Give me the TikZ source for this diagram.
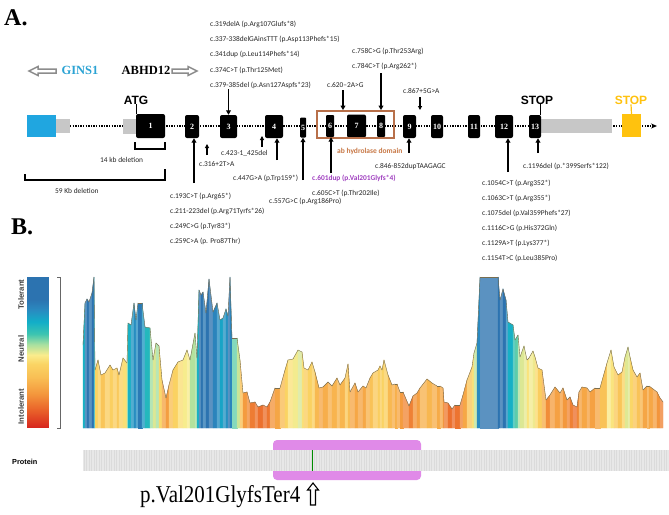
\documentclass[tikz,border=0pt]{standalone}
\usepackage{fontspec}
\setmainfont{Liberation Serif}
\newfontfamily\carlito{Carlito}
\newfontfamily\arialf{Liberation Sans}
\usetikzlibrary{arrows.meta}

\definecolor{cA}{RGB}{215,38,30}
\definecolor{cB}{RGB}{234,100,42}
\definecolor{cC}{RGB}{243,150,60}
\definecolor{cD}{RGB}{249,190,84}
\definecolor{cE}{RGB}{250,212,100}
\definecolor{cF}{RGB}{250,236,140}
\definecolor{cG}{RGB}{168,224,160}
\definecolor{cH}{RGB}{60,196,176}
\definecolor{cI}{RGB}{18,174,200}
\definecolor{cJ}{RGB}{42,138,192}
\definecolor{cK}{RGB}{44,115,176}
\definecolor{genblue}{RGB}{32,166,224}
\definecolor{ginsblue}{RGB}{43,163,212}
\definecolor{stopyel}{RGB}{255,194,14}
\definecolor{brownc}{RGB}{184,112,74}
\definecolor{domtxt}{RGB}{200,120,70}
\definecolor{purp}{RGB}{160,64,192}
\definecolor{pinkc}{RGB}{224,138,232}

\newcommand\pcmix[4]{\pgfmathtruncatemacro\pct{max(0,min(100,100*(\ff-#1)/(#2-#1)))}\colorlet{pc}{#4!\pct!#3}}
\newcommand\setpc[1]{%
 \pgfmathsetmacro\ff{#1}%
 \ifdim\ff pt<0.12pt \pcmix{0}{0.12}{cA}{cB}\else
 \ifdim\ff pt<0.22pt \pcmix{0.12}{0.22}{cB}{cC}\else
 \ifdim\ff pt<0.33pt \pcmix{0.22}{0.33}{cC}{cD}\else
 \ifdim\ff pt<0.42pt \pcmix{0.33}{0.42}{cD}{cE}\else
 \ifdim\ff pt<0.48pt \pcmix{0.42}{0.48}{cE}{cF}\else
 \ifdim\ff pt<0.55pt \pcmix{0.48}{0.55}{cF}{cG}\else
 \ifdim\ff pt<0.62pt \pcmix{0.55}{0.62}{cG}{cH}\else
 \ifdim\ff pt<0.70pt \pcmix{0.62}{0.70}{cH}{cI}\else
 \ifdim\ff pt<0.78pt \pcmix{0.70}{0.78}{cI}{cJ}\else
 \ifdim\ff pt<0.85pt \pcmix{0.78}{0.85}{cJ}{cK}\else
 \colorlet{pc}{cK}\fi\fi\fi\fi\fi\fi\fi\fi\fi\fi}

\def\prof{83/345, 85/303, 87/299, 89/302, 92/293, 94/277, 95/370, 98/360, 101/375, 105/373, 110/365, 113/370, 117/368, 119/375, 123/358, 127/363, 128/323, 131/325, 134/303, 136/320, 138/303, 142/303, 145/327, 150/328, 153/360, 156/343, 159/346, 162/380, 166/398, 169/385, 173/370, 178/362, 183/360, 187/350, 190/360, 195/333, 197/358, 199/290, 201/295, 203/292, 206/313, 209/279, 213/312, 217/303, 220/320, 223/318, 226/309, 228/316, 230/277, 232/338, 237/338, 240/360, 243/393, 247/392, 250/403, 255/402, 258/407, 263/405, 267/407, 270/402, 275/388, 280/388, 285/370, 288/360, 293/359, 298/350, 302/352, 304/368, 308/370, 312/362, 315/372, 319/388, 323/387, 328/382, 332/386, 337/378, 340/385, 345/378, 348/364, 350/392, 355/383, 358/392, 363/386, 366/388, 370/378, 373/373, 378/370, 380/366, 382/370, 384/360, 388/375, 392/385, 395/384, 397/384, 400/392, 403/392, 409/406, 413/396, 417/393, 420/388, 427/379, 432/383, 437/386, 440/386, 443/388, 444/402, 448/403, 452/409, 455/405, 460/405, 463/395, 467/380, 472/367, 474/353, 477/343, 480/277, 498/277, 500/300, 503/289, 506/300, 508/322, 513/325, 515/340, 518/335, 520/357, 524/346, 527/360, 529/358, 533/351, 535/357, 538/368, 542/370, 546/400, 550/395, 555/387, 560/393, 563/388, 567/400, 570/397, 573/405, 577/407, 579/392, 582/387, 587/388, 590/392, 595/388, 600/388, 607/363, 611/350, 614/367, 618/375, 622/372, 625/357, 628/347, 630/357, 633/370, 637/377, 640/373, 643/390, 647/386, 649/386, 653/389, 657/392, 660/398, 663/402}

\tikzset{
 mut/.style={font=\carlito\fontsize{7.4}{8.5}\selectfont, text=black!85, inner sep=0pt, anchor=west},
 exonbox/.style={fill=black, rounded corners=2pt, inner sep=0pt, text=white, font=\bfseries\fontsize{8}{9}\selectfont},
 utr/.style={fill=black!22, inner sep=0pt},
 uparr/.style={line width=1.6pt, -{Triangle[length=4.5pt,width=4.8pt]}},
 thinarr/.style={line width=1.1pt, -{Triangle[length=4pt,width=4pt]}},
 bigsans/.style={font=\arialf\bfseries\fontsize{12}{13}\selectfont, inner sep=0pt},
 genelbl/.style={font=\bfseries\fontsize{12.5}{14}\selectfont, inner sep=0pt},
 hollow/.style={draw=black!45, line width=1.5pt, fill=white, line join=miter},
 profline/.style={draw={rgb,255:red,120;green,110;blue,80}, line width=0.4pt},
 scalelbl/.style={font=\arialf\bfseries\fontsize{7.8}{9}\selectfont, text=black!75, rotate=90, inner sep=0pt},
 panel/.style={font=\bfseries\fontsize{24}{26}\selectfont, anchor=base west, inner sep=0},
}

\begin{document}
\begin{tikzpicture}[x=1pt,y=-1pt]
\useasboundingbox (0,0) rectangle (669,514);
\fill[white] (0,0) rectangle (669,514);

% ---------- Part A ----------
\node[panel] (lblA) at (4,25) {A.};

% gene arrows
\draw[hollow] (29,71) -- (38,66.5) -- (38,69) -- (56,69) -- (56,73) -- (38,73) -- (38,75.5) -- cycle;
\node[genelbl, text=ginsblue] (gins1) at (80,70) {GINS1};
\node[genelbl] (abhd) at (146,70) {ABHD12};
\draw[hollow] (197,71) -- (188,66.5) -- (188,69) -- (172,69) -- (172,73) -- (188,73) -- (188,75.5) -- cycle;

% gene line
\coordinate (gl0) at (70,126);
\coordinate (gl1) at (657,126);
\draw[line width=1.3pt, dash pattern=on 1.3pt off 1.3pt, -{Stealth[length=6pt,width=5pt]}] (gl0) -- (gl1);

% boxes
\node[fill=genblue, minimum width=29pt, minimum height=22pt, inner sep=0] (gbox) at (41.5,126) {};
\node[utr, minimum width=14pt, minimum height=14pt] (u0) at (63,126) {};
\node[utr, minimum width=13pt, minimum height=15pt] (u5) at (129.5,126.5) {};
\node[utr, minimum width=71pt, minimum height=14pt] (u3) at (576.5,126) {};
\node[fill=stopyel, minimum width=19pt, minimum height=23pt, inner sep=0] (ybox) at (631.5,125.5) {};

\node[exonbox, minimum width=29pt, minimum height=24pt] (e1) at (150.5,126) {1};
\node[exonbox, minimum width=14pt, minimum height=23pt] (e2) at (192,126.5) {2};
\node[exonbox, minimum width=17pt, minimum height=23pt] (e3) at (228.5,126.5) {3};
\node[exonbox, minimum width=18pt, minimum height=23pt] (e4) at (274,126.5) {4};
\node[exonbox, minimum width=6pt, minimum height=20pt, rounded corners=1pt] (e5) at (303,127.5) {5};
\node[exonbox, minimum width=8pt, minimum height=22pt, rounded corners=1pt] (e6) at (330,126) {6};
\node[exonbox, minimum width=19pt, minimum height=23pt] (e7) at (356.5,126) {7};
\node[exonbox, minimum width=8pt, minimum height=22pt, rounded corners=1pt] (e8) at (381,126) {8};
\node[exonbox, minimum width=13pt, minimum height=23pt] (e9) at (409.5,126.5) {9};
\node[exonbox, minimum width=12pt, minimum height=23pt] (e10) at (437,126.5) {10};
\node[exonbox, minimum width=12pt, minimum height=23pt] (e11) at (474,126.5) {11};
\node[exonbox, minimum width=18pt, minimum height=23pt] (e12) at (504,126.5) {12};
\node[exonbox, minimum width=12pt, minimum height=23pt] (e13) at (535,126.5) {13};

\node[draw=brownc, line width=1.8pt, minimum width=77pt, minimum height=27pt, inner sep=0] (dombox) at (355.5,124.5) {};
\node[font=\carlito\bfseries\fontsize{7.5}{8}\selectfont, text=domtxt, anchor=west, inner sep=0] (domlbl) at (337,151) {ab hydrolase domain};

% ATG / STOP
\node[bigsans] (atg) at (136,100) {ATG};
\draw[line width=1.2pt] ([xshift=0.6pt]e1.north west |- atg.south) -- ([xshift=0.6pt]e1.north west);
\node[bigsans] (stop1) at (537,100) {STOP};
\draw[line width=1.2pt] ([xshift=-0.8pt]e13.north east |- stop1.south) -- ([xshift=-0.8pt]e13.north east);
\node[bigsans, text=stopyel] (stop2) at (631,100) {STOP};
\draw[line width=1.2pt, stopyel] (stop2.south) -- (ybox.north);

% deletion brackets
\draw[line width=1.2pt] (135,142) -- (135,149) -- (165,149) -- (165,142);
\node[mut] (d14) at (100,160) {14 kb deletion};
\draw[line width=1.2pt] (25,174) -- (25,180) -- (165,180) -- (165,169);
\node[mut] (d59) at (55,191) {59 Kb deletion};

% top labels
\node[mut] (t1) at (210,24) {c.319delA (p.Arg107Glufs*8)};
\node[mut] (t2) at (210,39) {c.337-338delGAinsTTT (p.Asp113Phefs*15)};
\node[mut] (t3) at (210,54) {c.341dup (p.Leu114Phefs*14)};
\node[mut] (t4) at (210,70) {c.374C>T (p.Thr125Met)};
\node[mut] (t5) at (210,85) {c.379-385del (p.Asn127Aspfs*23)};
\node[mut] (t6) at (327,85) {c.620–2A>G};
\node[mut] (t7) at (352,51) {c.758C>G (p.Thr253Arg)};
\node[mut] (t8) at (352,66) {c.784C>T (p.Arg262*)};
\node[mut] (t9) at (403,91) {c.867+5G>A};

% top arrows
\coordinate (s3) at (228.5,89);
\draw[uparr] (s3) -- (s3 |- e3.north);
\coordinate (s620) at (343,90);
\draw[uparr] (s620) -- (s620 |- dombox.north);
\coordinate (s784) at (381,73);
\draw[uparr] (s784) -- (s784 |- dombox.north);
\coordinate (s867) at (420,97);
\coordinate (s867e) at (420,110);
\draw[thinarr] (s867) -- (s867e);

% bottom labels
\node[mut] (b1) at (199,164) {c.316+2T>A};
\node[mut] (b2) at (221,153) {c.423-1\_425del};
\node[mut] (b3) at (233,178) {c.447G>A (p.Trp159*)};
\node[mut, font=\carlito\bfseries\fontsize{7.4}{8.5}\selectfont, text=purp] (b4) at (312,178) {c.601dup (p.Val201Glyfs*4)};
\node[mut] (b5) at (312,193) {c.605C>T (p.Thr202Ile)};
\node[mut] (b6) at (269,201) {c.557G>C (p.Arg186Pro)};
\node[mut] (b7) at (170,196) {c.193C>T (p.Arg65*)};
\node[mut] (b8) at (170,211) {c.211-223del (p.Arg71Tyrfs*26)};
\node[mut] (b9) at (170,226) {c.249C>G (p.Tyr83*)};
\node[mut] (b10) at (170,241) {c.259C>A (p. Pro87Thr)};
\node[mut] (b11) at (375,167) {c.846-852dupTAAGAGC};
\node[mut] (b12) at (523,166) {c.1196del (p.*399Serfs*122)};
\node[mut] (r1) at (482,183) {c.1054C>T (p.Arg352*)};
\node[mut] (r2) at (482,198) {c.1063C>T (p.Arg355*)};
\node[mut] (r3) at (482,213) {c.1075del (p.Val359Phefs*27)};
\node[mut] (r4) at (482,228) {c.1116C>G (p.His372Gln)};
\node[mut] (r5) at (482,243) {c.1129A>T (p.Lys377*)};
\node[mut] (r6) at (482,258) {c.1154T>C (p.Leu385Pro)};

% bottom arrows
\coordinate (a2) at (194,183);
\draw[uparr] (a2) -- (a2 |- e2.south);
\coordinate (a316) at (207,155);
\coordinate (a316e) at (207,144);
\draw[thinarr] (a316) -- (a316e);
\coordinate (a423) at (262,147);
\coordinate (a423e) at (262,136);
\draw[thinarr] (a423) -- (a423e);
\coordinate (a4) at (277,160);
\draw[uparr] (a4) -- (a4 |- e4.south);
\coordinate (a5) at (303,180);
\draw[uparr] (a5) -- (a5 |- e5.south);
\coordinate (a6) at (331,173);
\draw[uparr] (a6) -- (a6 |- e6.south);
\coordinate (a9) at (409,153);
\draw[uparr] (a9) -- (a9 |- e9.south);
\coordinate (a12) at (508,172);
\draw[uparr] (a12) -- (a12 |- e12.south);
\coordinate (a13) at (538,153);
\draw[uparr] (a13) -- (a13 |- e13.south);

% ---------- Part B ----------
\node[panel] (lblB) at (11,234) {B.};

% legend
\foreach \k in {0,...,150} {
  \setpc{(\k+0.5)/151}
  \fill[pc] (27,{428-\k-1.3}) rectangle (49,{428-\k});
}
\draw[black!60, line width=0.6pt] (57,277) -- (60,277) -- (60,428) -- (57,428);
\node[scalelbl] (tol) at (21,294.5) {Tolerant};
\node[scalelbl] (neu) at (21,349) {Neutral};
\node[scalelbl] (intol) at (21,406.5) {Intolerant};

% profile
\foreach \x/\y [count=\i, remember=\x as \px (initially 83), remember=\y as \py (initially 428)] in \prof {
  \setpc{(428-(\py+\y)/2)/151}
  \ifodd\i \colorlet{pc}{pc!78!white}\fi
  \fill[pc, draw=pc, line width=0.25pt] (\px,428) -- (\px,\py) -- (\x,\y) -- (\x,428) -- cycle;
}
\foreach \x/\y [remember=\x as \px (initially 83), remember=\y as \py (initially 345)] in \prof {
  \draw[profline] (\px,\py) -- (\x,\y);
}

% protein track
\node[font=\arialf\bfseries\fontsize{7.3}{8}\selectfont, anchor=west, inner sep=0] (prot) at (12,462) {Protein};
\node[fill=pinkc, rounded corners=4pt, minimum width=148pt, minimum height=40pt, inner sep=0] (pdom) at (347,460) {};
\fill[black!9] (83,450) rectangle (669,471);
\foreach \xx in {84,86.5,...,668} {\draw[black!14, line width=0.3pt] (\xx,450) -- (\xx,471);}
\draw[green!55!black, line width=0.8pt] (312,450) -- (312,471);
\node[font=\fontsize{21}{24}\selectfont, anchor=base west, inner sep=0] (pv) at (140,502) {\scalebox{1}[1.15]{p.Val201GlyfsTer4}};
\draw[line width=1.1pt, fill=white, line join=miter] (313,483) -- (318.5,490) -- (315.5,490) -- (315.5,505) -- (310.5,505) -- (310.5,490) -- (307.5,490) -- cycle;
\end{tikzpicture}
\end{document}
